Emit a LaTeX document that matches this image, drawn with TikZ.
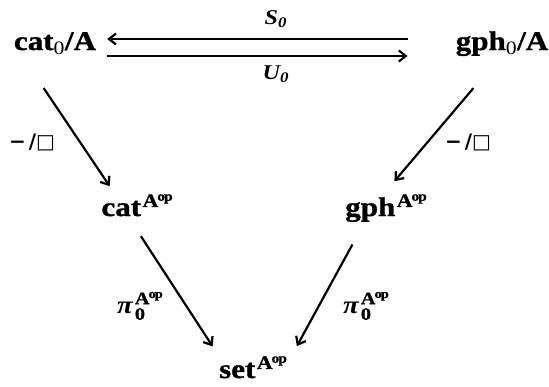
\documentclass[tikz,border=0pt]{standalone}
\usepackage{amssymb}
\usepackage{fontspec}
\setmainfont{Liberation Serif}[FakeStretch=1.15, BoldFeatures={FakeBold=1.2}]
\newfontfamily\symfont{DejaVu Sans}
\usetikzlibrary{arrows.meta}
\newcommand{\Aop}{\kern1.5pt$^{\mathbf{A}^{\kern1pt\mathbf{op}}}$}
\newcommand{\piop}{$\mbox{π\kern2pt}_{\mathbf{0}}^{\mathbf{A}^{\kern1pt\mathbf{op}}}$}

\begin{document}
\begin{tikzpicture}[x=1pt, y=-1pt,
          obj/.style={font=\fontsize{27}{32}\selectfont\bfseries,
                      anchor=base, inner sep=3pt},
          lbl/.style={font=\fontsize{21}{25}\selectfont\bfseries\itshape,
                      inner sep=2pt},
          cut/.style={font=\fontsize{20}{24}\selectfont\symfont\bfseries},
          arr/.style={line width=2.2pt,
                      -{Straight Barb[length=7pt,width=11pt,line width=2.2pt]}}]
        \useasboundingbox (0,0) rectangle (549,386);
        \node[obj] (catA) at (55,50) {cat\textsubscript{\mdseries 0}/A};
        \node[obj] (gphA) at (502,50) {gph\textsubscript{\mdseries 0}/A};
        \node[obj] (catop) at (137,216) {cat\Aop};
        \node[obj] (gphop) at (386,216) {gph\Aop};
        \node[obj] (setop) at (253,378) {set\Aop};
        \draw[arr, shorten <=45pt, shorten >=8pt]
          ([yshift=11pt]gphA.base west) -- ([yshift=11pt]catA.base east)
          node[lbl, midway, above=8pt] (s0) {S\textsubscript{0}};
        \draw[arr, shorten <=8pt, shorten >=45pt]
          ([yshift=-6pt]catA.base east) -- ([yshift=-6pt]gphA.base west)
          node[lbl, midway, below=7pt] (u0) {U\textsubscript{0}};
        \draw[arr, shorten <=37pt, shorten >=6pt]
          ([xshift=-32pt]catA.south) -- ([xshift=-24pt]catop.north);
        \draw[arr, shorten <=38pt, shorten >=13pt]
          ([xshift=-4pt]gphA.south) -- (gphop.north);
        \draw[arr, shorten <=20pt, shorten >=8pt]
          ([xshift=-7pt]catop.south) -- ([xshift=-36pt]setop.north);
        \draw[arr, shorten <=22pt, shorten >=8pt]
          ([xshift=-23pt]gphop.south) -- ([xshift=40pt]setop.north);
        \node[cut] (slL) at (32,142) {−\kern3pt/□};
        \node[cut] (slR) at (468,142) {−\kern3pt/□};
        \node[lbl, font=\fontsize{25}{30}\selectfont\bfseries\itshape] (piL) at (140,306) {\piop};
        \node[lbl, font=\fontsize{25}{30}\selectfont\bfseries\itshape] (piR) at (366,306) {\piop};
      \end{tikzpicture}
\end{document}
